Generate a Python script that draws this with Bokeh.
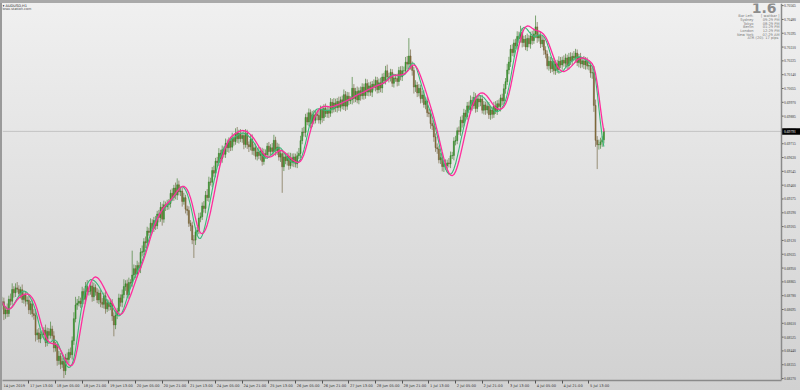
import numpy as np
from bokeh.plotting import figure
from bokeh.models import Range1d, FixedTicker, Span, Label, LinearAxis, ColumnDataSource
from bokeh.embed import file_html
from bokeh.resources import INLINE

# ---------------- data (AUDUSD H1, bar 0 = 14 Jun 2019 21:00) ----------------
first_open = 0.68720
closes = [
    0.68743, 0.68668, 0.68692, 0.68670, 0.68758, 0.68746, 0.68818, 0.68798, 0.68828, 0.68820, 0.68793, 0.68817, 0.68757, 0.68784, 0.68746, 0.68752, 0.68693, 0.68730, 0.68669, 0.68658,
    0.68538, 0.68551, 0.68514, 0.68542, 0.68541, 0.68568, 0.68491, 0.68559, 0.68536, 0.68575, 0.68533, 0.68458, 0.68477, 0.68381, 0.68408, 0.68358, 0.68375, 0.68318, 0.68396, 0.68388,
    0.68431, 0.68417, 0.68503, 0.68638, 0.68723, 0.68734, 0.68746, 0.68731, 0.68805, 0.68757, 0.68838, 0.68805, 0.68808, 0.68840, 0.68773, 0.68830, 0.68802, 0.68754, 0.68796, 0.68739,
    0.68727, 0.68779, 0.68699, 0.68737, 0.68713, 0.68735, 0.68655, 0.68600, 0.68658, 0.68685, 0.68766, 0.68739, 0.68786, 0.68836, 0.68853, 0.68785, 0.68861, 0.68857, 0.68907, 0.68946,
    0.68913, 0.68965, 0.68949, 0.69047, 0.69051, 0.69112, 0.69105, 0.69178, 0.69169, 0.69226, 0.69194, 0.69243, 0.69210, 0.69282, 0.69261, 0.69324, 0.69251, 0.69339, 0.69327, 0.69340,
    0.69348, 0.69410, 0.69384, 0.69442, 0.69399, 0.69462, 0.69419, 0.69424, 0.69360, 0.69383, 0.69312, 0.69304, 0.69225, 0.69211, 0.69123, 0.69122, 0.69173, 0.69181, 0.69258, 0.69266,
    0.69332, 0.69317, 0.69398, 0.69384, 0.69480, 0.69478, 0.69550, 0.69534, 0.69608, 0.69599, 0.69656, 0.69624, 0.69678, 0.69650, 0.69717, 0.69690, 0.69732, 0.69694, 0.69751, 0.69729,
    0.69780, 0.69746, 0.69779, 0.69747, 0.69765, 0.69711, 0.69779, 0.69709, 0.69696, 0.69743, 0.69673, 0.69690, 0.69638, 0.69664, 0.69642, 0.69668, 0.69606, 0.69654, 0.69648, 0.69700,
    0.69667, 0.69690, 0.69668, 0.69736, 0.69672, 0.69695, 0.69633, 0.69654, 0.69573, 0.69634, 0.69611, 0.69639, 0.69581, 0.69629, 0.69601, 0.69634, 0.69591, 0.69641, 0.69655, 0.69734,
    0.69787, 0.69785, 0.69877, 0.69849, 0.69906, 0.69839, 0.69893, 0.69860, 0.69896, 0.69889, 0.69861, 0.69928, 0.69875, 0.69932, 0.69901, 0.69918, 0.69903, 0.69970, 0.69928, 0.69966,
    0.69937, 0.69975, 0.69939, 0.69985, 0.69947, 0.70017, 0.69946, 0.70008, 0.69979, 0.69987, 0.70056, 0.69993, 0.70037, 0.69984, 0.70041, 0.70010, 0.70063, 0.70012, 0.70085, 0.70033,
    0.70071, 0.70032, 0.70081, 0.70063, 0.70104, 0.70048, 0.70090, 0.70058, 0.70125, 0.70102, 0.70164, 0.70126, 0.70122, 0.70154, 0.70087, 0.70120, 0.70116, 0.70098, 0.70166, 0.70127,
    0.70164, 0.70164, 0.70217, 0.70205, 0.70255, 0.70195, 0.70166, 0.70064, 0.70076, 0.70028, 0.70056, 0.69993, 0.70015, 0.69957, 0.69977, 0.69906, 0.69900, 0.69839, 0.69825, 0.69757,
    0.69691, 0.69683, 0.69616, 0.69629, 0.69575, 0.69593, 0.69580, 0.69597, 0.69591, 0.69641, 0.69643, 0.69731, 0.69734, 0.69795, 0.69790, 0.69860, 0.69844, 0.69904, 0.69883, 0.69948,
    0.69925, 0.69982, 0.69949, 0.70000, 0.69932, 0.69991, 0.69972, 0.69990, 0.69921, 0.69954, 0.69923, 0.69946, 0.69894, 0.69923, 0.69896, 0.69947, 0.69918, 0.69961, 0.69944, 0.69997,
    0.69979, 0.70053, 0.70097, 0.70169, 0.70218, 0.70297, 0.70276, 0.70335, 0.70318, 0.70375, 0.70360, 0.70401, 0.70338, 0.70358, 0.70311, 0.70363, 0.70330, 0.70378, 0.70350, 0.70391,
    0.70434, 0.70366, 0.70383, 0.70330, 0.70353, 0.70291, 0.70267, 0.70195, 0.70223, 0.70176, 0.70222, 0.70165, 0.70206, 0.70172, 0.70223, 0.70200, 0.70229, 0.70211, 0.70243, 0.70195,
    0.70248, 0.70225, 0.70253, 0.70242, 0.70273, 0.70215, 0.70248, 0.70206, 0.70225, 0.70201, 0.70224, 0.70193, 0.70196, 0.70151, 0.70152, 0.69951, 0.69736, 0.69709, 0.69710, 0.69726, 0.69739, 0.69791,
]
# wick lengths beyond the candle body, in points (0.00001)
upper_wick = [
    30, 25, 18, 40, 22, 35, 38, 20, 28, 36, 24, 18, 32, 26, 20, 24, 30, 18, 22, 28,
    40, 22, 30, 20, 26, 18, 34, 24, 22, 45, 20, 28, 18, 22, 32, 20, 24, 18, 26, 34,
    22, 30, 26, 40, 50, 26, 32, 22, 30, 20, 26, 38, 22, 18, 26, 30, 20, 24, 22, 18,
    26, 20, 30, 22, 18, 26, 24, 22, 30, 20, 26, 22, 32, 45, 22, 26, 30, 20, 150, 26,
    22, 30, 20, 26, 38, 22, 32, 26, 20, 30, 24, 22, 28, 20, 26, 32, 22, 26, 20, 30,
    26, 22, 30, 20, 34, 40, 26, 22, 20, 30, 18, 22, 26, 20, 24, 30, 26, 22, 32, 26,
    22, 30, 26, 38, 32, 26, 22, 30, 20, 26, 32, 22, 26, 20, 30, 24, 22, 26, 32, 20,
    30, 38, 22, 26, 20, 30, 26, 22, 20, 26, 30, 22, 26, 20, 32, 24, 22, 30, 26, 20,
    26, 22, 30, 34, 22, 26, 20, 24, 22, 30, 26, 20, 22, 30, 26, 22, 20, 26, 34, 30,
    26, 32, 22, 30, 26, 20, 24, 30, 22, 26, 32, 22, 20, 26, 30, 24, 22, 26, 20, 30,
    26, 22, 30, 20, 26, 32, 22, 26, 24, 20, 70, 26, 22, 30, 20, 26, 24, 22, 30, 26,
    22, 26, 20, 30, 24, 22, 26, 32, 22, 26, 30, 38, 26, 22, 20, 26, 24, 30, 22, 26,
    30, 26, 32, 38, 110, 40, 26, 22, 30, 20, 26, 22, 24, 30, 20, 26, 22, 26, 20, 24,
    22, 26, 20, 30, 24, 22, 26, 20, 30, 26, 22, 24, 30, 20, 26, 22, 30, 26, 20, 24,
    26, 30, 22, 34, 26, 20, 30, 22, 26, 24, 20, 30, 26, 22, 20, 26, 30, 22, 26, 20,
    26, 30, 22, 38, 32, 26, 30, 22, 26, 32, 30, 40, 26, 22, 26, 30, 22, 26, 32, 30,
    70, 30, 26, 22, 26, 20, 24, 22, 30, 26, 20, 24, 22, 26, 30, 26, 22, 30, 26, 20,
    26, 30, 22, 32, 26, 22, 20, 26, 22, 30, 24, 22, 26, 20, 30, 40, 36, 26, 30, 26, 22, 20,
]
lower_wick = [
    26, 38, 30, 22, 20, 26, 22, 30, 26, 20, 24, 30, 22, 26, 32, 20, 26, 30, 22, 26,
    40, 30, 22, 26, 20, 30, 26, 22, 26, 20, 30, 26, 22, 32, 26, 30, 22, 45, 26, 22,
    26, 20, 30, 26, 22, 30, 20, 26, 22, 30, 26, 20, 24, 22, 30, 26, 22, 20, 26, 30,
    22, 26, 30, 20, 26, 22, 30, 70, 26, 22, 20, 26, 30, 22, 26, 20, 24, 26, 22, 30,
    26, 20, 22, 30, 26, 22, 32, 26, 20, 24, 30, 22, 26, 20, 30, 26, 40, 22, 26, 20,
    30, 26, 22, 20, 26, 30, 22, 26, 32, 20, 26, 30, 22, 34, 26, 110, 30, 26, 22, 26,
    20, 26, 30, 22, 26, 20, 30, 22, 26, 24, 22, 30, 26, 20, 22, 26, 30, 24, 22, 26,
    20, 26, 30, 22, 26, 30, 20, 26, 32, 22, 26, 30, 20, 26, 22, 30, 26, 20, 24, 26,
    30, 22, 26, 20, 30, 26, 22, 30, 160, 26, 22, 30, 26, 20, 26, 30, 22, 26, 20, 30,
    22, 26, 30, 20, 26, 30, 22, 26, 20, 30, 22, 26, 30, 20, 22, 26, 30, 22, 26, 20,
    26, 30, 22, 26, 20, 24, 30, 22, 26, 20, 30, 26, 22, 20, 26, 30, 22, 26, 20, 24,
    26, 22, 30, 20, 26, 24, 22, 26, 30, 20, 22, 26, 30, 24, 22, 26, 20, 30, 26, 22,
    26, 20, 22, 30, 26, 24, 32, 40, 30, 26, 22, 30, 26, 20, 30, 26, 22, 32, 26, 30,
    26, 30, 22, 26, 30, 34, 26, 38, 22, 26, 20, 30, 26, 22, 20, 26, 30, 22, 26, 20,
    22, 26, 30, 20, 26, 22, 30, 26, 20, 26, 30, 22, 26, 32, 26, 22, 20, 26, 22, 30,
    26, 22, 30, 20, 26, 30, 22, 26, 20, 24, 26, 22, 30, 26, 20, 26, 22, 30, 26, 20,
    26, 30, 22, 26, 20, 30, 26, 22, 30, 26, 20, 24, 26, 22, 26, 20, 30, 22, 26, 24,
    22, 26, 30, 20, 26, 22, 30, 26, 22, 26, 30, 20, 26, 30, 36, 40, 40, 150, 30, 26, 30, 22,
]
current_price = 0.69791

x_tick_bars = [0, 16, 32, 48, 64, 80, 96, 112, 128, 144, 160, 176, 192, 208, 224, 240,
               256, 272, 288, 304, 320, 336, 352]
x_tick_labels = ["14 Jun 2019", "17 Jun 13:00", "18 Jun 05:00", "18 Jun 21:00", "19 Jun 13:00",
                 "20 Jun 05:00", "20 Jun 21:00", "21 Jun 13:00", "24 Jun 05:00", "24 Jun 21:00",
                 "25 Jun 13:00", "26 Jun 05:00", "26 Jun 21:00", "27 Jun 13:00", "28 Jun 05:00",
                 "28 Jun 21:00", "1 Jul 13:00", "2 Jul 05:00", "2 Jul 21:00", "3 Jul 13:00",
                 "4 Jul 05:00", "4 Jul 21:00", "5 Jul 13:00"]
y_ticks = [0.68270, 0.68355, 0.68440, 0.68525, 0.68610, 0.68695, 0.68780, 0.68865, 0.68950,
           0.69035, 0.69120, 0.69205, 0.69290, 0.69375, 0.69460, 0.69545, 0.69630, 0.69715,
           0.69800, 0.69885, 0.69970, 0.70055, 0.70140, 0.70225, 0.70310, 0.70395, 0.70480,
           0.70565]

info_labels = ["Bar Left:", "Sydney", "Tokyo", "Berlin", "London", "New York"]
info_values = ["[ waitbar ]", "09:29 PM", "08:29 PM", "01:29 PM", "12:29 PM", "07:29 AM"]
atr_text = "ATR (20):  17 pips"
spread_text = "1.6"

# ---------------- derived ----------------
n = len(closes)
assert len(upper_wick) == n and len(lower_wick) == n
idx = np.arange(n)
close = np.array(closes)
opn = np.concatenate([[first_open], close[:-1]])
body_top = np.maximum(opn, close)
body_bot = np.minimum(opn, close)
high = body_top + np.array(upper_wick) * 1e-5
low = body_bot - np.array(lower_wick) * 1e-5
bull = close >= opn


def wma(x, period):
    out = np.empty_like(x)
    for i in range(len(x)):
        k = min(period, i + 1)
        w = np.arange(1, k + 1, dtype=float)
        out[i] = np.dot(x[i - k + 1:i + 1], w) / w.sum()
    return out


def hma(x, period):
    half = wma(x, period // 2)
    full = wma(x, period)
    return wma(2 * half - full, int(round(np.sqrt(period))))


pink_ma = wma(hma(close, 24), 3)
green_ma = wma(hma(close, 18), 3)

# ---------------- figure ----------------
BAR_PX = 1.6667          # pixels per bar
BAR0_PX = 1.7            # page x of bar 0
FL, FT, FR, FB = 2, 3, 800, 381   # frame edges on the page
AXIS_PX = 781            # page x of the price scale line
X0 = (FL - BAR0_PX) / BAR_PX
X1 = (FR - BAR0_PX) / BAR_PX
Y0, Y1 = 0.68258, 0.70578


def px(xp):
    return (xp - BAR0_PX) / BAR_PX


def py(yp):
    return Y1 - (yp - FT) / (FB - FT) * (Y1 - Y0)


p = figure(width=800, height=390, output_backend="svg", toolbar_location=None,
           x_range=Range1d(X0, X1), y_range=Range1d(Y0, Y1),
           y_axis_location=None,
           min_border_left=FL, min_border_right=0, min_border_top=FT, min_border_bottom=390 - FB)
p.background_fill_color = None
p.border_fill_color = None
p.outline_line_color = None
p.grid.visible = False
p.styles = {
    "background": "linear-gradient(#a9a9a9, #a9a9a9) 0 0 / 100% 3px no-repeat, "
                  "linear-gradient(#9a9a9a, #9a9a9a) 0 0 / 2px 100% no-repeat, "
                  "linear-gradient(to bottom, #f0f0f0 0%, #d1d1d1 100%)"
}

FONT = "DejaVu Sans"
FS = 3.6
TXT = "#333333"

# time axis: tick marks at the bars
xa = p.xaxis[0]
xa.ticker = FixedTicker(ticks=x_tick_bars)
xa.major_label_overrides = {b: "" for b in x_tick_bars}
xa.major_label_text_font_size = "1px"
xa.major_tick_out = 3
xa.major_tick_in = 0
xa.minor_tick_line_color = None
xa.major_label_standoff = 0
xa.axis_line_color = "#8a8a8a"
xa.axis_line_width = 1.5
xa.major_tick_line_color = "#555555"
xa.bounds = (X0, px(AXIS_PX))

# time labels start at their tick (MetaTrader style): second axis with shifted label anchors
CHAR_EM = {" ": 0.318, ":": 0.337, "J": 0.295, "u": 0.634, "n": 0.634, "l": 0.278}


def text_w(s):
    return sum(CHAR_EM.get(c, 0.636) for c in s) * FS


lab_pos = [b + (text_w(t) / 2 + 1.2) / BAR_PX for b, t in zip(x_tick_bars, x_tick_labels)]
xl = LinearAxis(ticker=FixedTicker(ticks=lab_pos),
                major_label_overrides={pos: t for pos, t in zip(lab_pos, x_tick_labels)},
                major_label_text_font=FONT, major_label_text_font_size=f"{FS}px",
                major_label_text_color=TXT, major_tick_out=0, major_tick_in=0,
                major_label_standoff=0, axis_line_color=None, major_tick_line_color=None,
                minor_tick_line_color=None)
p.add_layout(xl, "below")

# price scale on the right
ax_x = px(AXIS_PX)
p.add_layout(Span(location=ax_x, dimension="height", line_color="#8a8a8a", line_width=1.5))
ysrc = ColumnDataSource(dict(y=y_ticks, lab=[f"{t:.5f}" for t in y_ticks]))
p.segment(x0=ax_x, x1=px(AXIS_PX + 2), y0="y", y1="y", source=ysrc, line_color="#555555", line_width=1)
p.text(x=px(AXIS_PX + 2.6), y="y", text="lab", source=ysrc, text_font="DejaVu Sans",
       text_font_size=f"{FS}px", text_color=TXT, text_baseline="middle")

# current price line
p.segment(x0=X0, x1=ax_x, y0=current_price, y1=current_price, line_color="#c3c3c3", line_width=1)

# candles
col = np.where(bull, "#45a136", "#8a7341")
edge = np.where(bull, "#2f7d25", "#6e5a30")
wick_col = np.where(bull, "#5d8f4f", "#857a5c")
p.segment(x0=idx, y0=high, x1=idx, y1=low, line_color=wick_col, line_width=0.8)
p.vbar(x=idx, width=0.62, top=body_top, bottom=body_bot, fill_color=col, line_color=edge, line_width=0.5)

# smoothed averages
p.line(idx, green_ma, line_color="#3cb878", line_width=1.1)
p.line(idx, pink_ma, line_color="#ff2c9c", line_width=1.3)

# price box on the scale
p.rect(x=px(AXIS_PX + 9.8), y=current_price, width=19, height=6.5, width_units="screen",
       height_units="screen", fill_color="black", line_color=None)
p.text(x=px(AXIS_PX + 2.6), y=current_price, text=[f"{current_price:.5f}"], text_font="DejaVu Sans",
       text_font_size=f"{FS}px", text_color="white", text_baseline="middle")

# top-left caption
p.add_layout(Label(x=px(2), y=py(3), text="\u25be AUDUSD,H1", text_font=FONT, text_font_size=f"{FS}px",
                   text_color="#222222", text_baseline="top"))
p.add_layout(Label(x=px(1), y=py(7), text="forex-station.com", text_font=FONT, text_font_size="3.4px",
                   text_color="#444444", text_baseline="top"))

# top-right info block
p.add_layout(Label(x=px(776), y=py(2), text=spread_text, text_font=FONT, text_font_size="14px",
                   text_font_style="bold", text_color="#8c8c8c", text_align="right", text_baseline="top"))
row_y = [15.7, 19.5, 23.2, 26.9, 30.6, 34.3]
for lab, val, ry in zip(info_labels, info_values, row_y):
    p.add_layout(Label(x=px(753), y=py(ry), text=lab, text_font=FONT, text_font_size=f"{FS}px",
                       text_color="#7a7a7a", text_align="right", text_baseline="middle"))
    p.add_layout(Label(x=px(779), y=py(ry), text=val, text_font=FONT, text_font_size=f"{FS}px",
                       text_color="#7a7a7a", text_align="right", text_baseline="middle"))
p.add_layout(Label(x=px(779), y=py(38), text=atr_text, text_font=FONT, text_font_size=f"{FS}px",
                   text_color="#7a7a7a", text_align="right", text_baseline="middle"))

open("out.html", "w").write(file_html(p, INLINE))
